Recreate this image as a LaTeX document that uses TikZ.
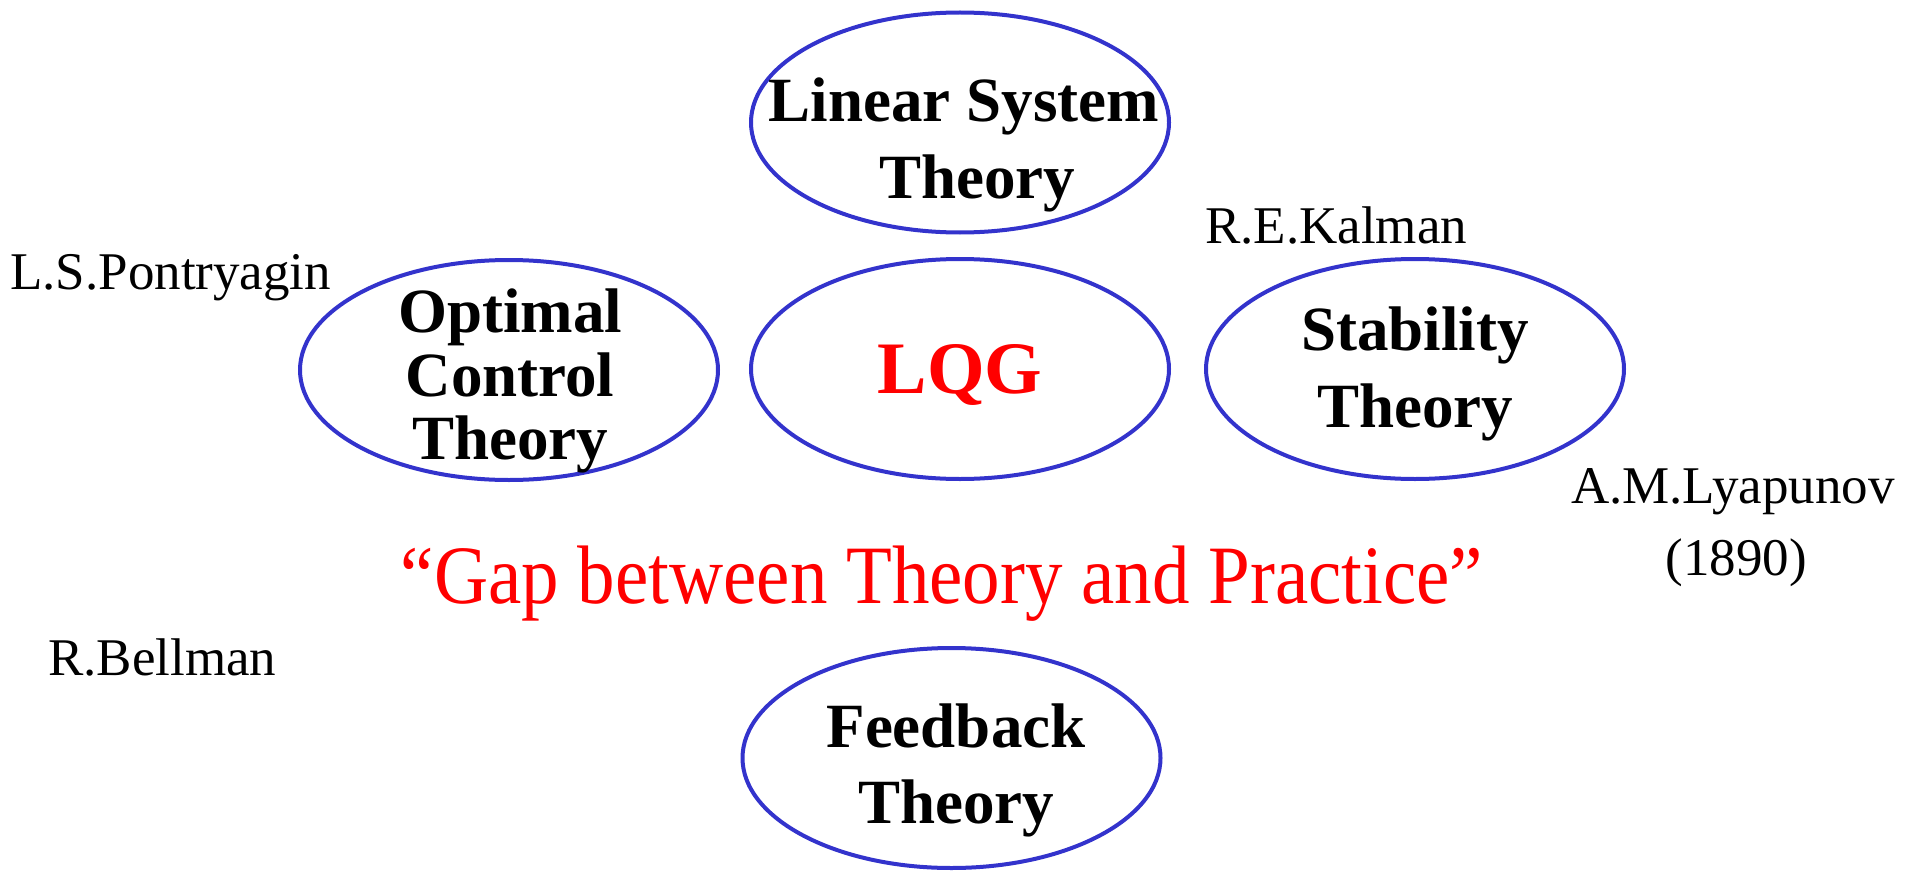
\documentclass[tikz,border=0pt]{standalone}
\usepackage{fontspec}
\usepackage{graphicx}
\setmainfont{Liberation Serif}
\usetikzlibrary{shapes.geometric}
\definecolor{ellblue}{RGB}{51,51,204}
\definecolor{lqgred}{RGB}{255,0,0}
\tikzset{
  oval/.style={ellipse, draw=ellblue, line width=4pt, minimum width=418pt, minimum height=220pt, inner sep=0pt},
  btxt/.style={inner sep=0pt, anchor=base, font=\fontsize{63}{76}\selectfont\bfseries},
  ntxt/.style={inner sep=0pt, font=\fontsize{53}{64}\selectfont},
}
\begin{document}
\begin{tikzpicture}[x=1pt,y=-1pt]
\useasboundingbox (0,0) rectangle (1911,872);
% ellipses
\node[oval] (lin) at (960,122.5) {};
\node[oval] (opt) at (509,370) {};
\node[oval] (lqg) at (960,369) {};
\node[oval] (stab) at (1415,369) {};
\node[oval] (fb) at (951.5,758) {};
% ellipse texts
\node[btxt] (lin1) at (964,122) {Linear System};
\node[btxt] (lin2) at (977,198) {Theory};
\node[btxt] (opt1) at (510,332) {Optimal};
\node[btxt] (opt2) at (510,396) {Control};
\node[btxt] (opt3) at (510,459) {Theory};
\node[btxt, text=lqgred, font=\fontsize{74}{80}\selectfont\bfseries] (lqgt) at (960,393) {LQG};
\node[btxt] (stab1) at (1415,350) {Stability};
\node[btxt] (stab2) at (1415,427) {Theory};
\node[btxt] (fb1) at (956,747) {Feedback};
\node[btxt] (fb2) at (956,823) {Theory};
% names
\node[ntxt, anchor=base west] (pont) at (10,289) {L.S.Pontryagin};
\node[ntxt, anchor=base west] (kal) at (1205,243) {R.E.Kalman};
\node[ntxt, anchor=base] (lya) at (1733,503) {A.M.Lyapunov};
\node[ntxt, anchor=base] (yr) at (1736,575) {(1890)};
\node[ntxt, anchor=base west] (bell) at (48,675) {R.Bellman};
% gap text
\node[inner sep=0pt, anchor=base, text=lqgred, font=\fontsize{83}{90}\selectfont] (gap) at (942,603) {\scalebox{0.903}[1]{“Gap between Theory and Practice”}};
\end{tikzpicture}
\end{document}
